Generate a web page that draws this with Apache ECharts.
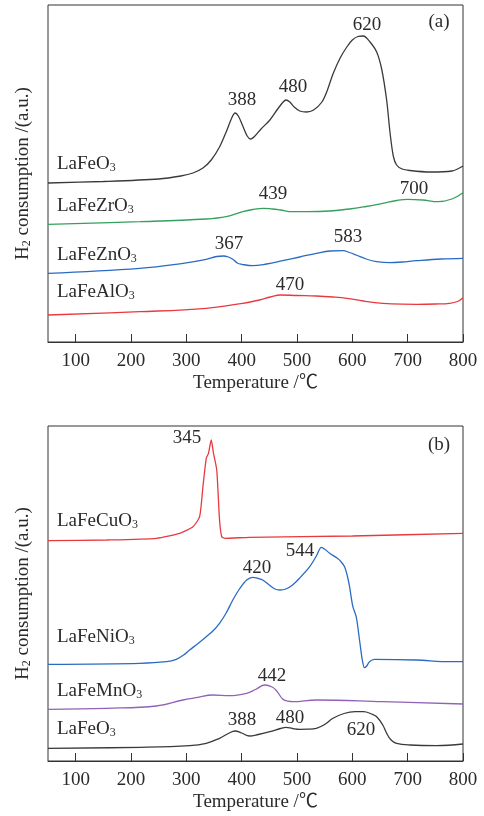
<!DOCTYPE html>
<html>
<head>
<meta charset="utf-8">
<script src="https://cdn.jsdelivr.net/npm/echarts@6/dist/echarts.min.js"></script>
<style>
html, body { margin: 0; padding: 0; background: #fff; }
#chart { width: 484px; height: 816px; }
</style>
</head>
<body>
<div id="chart"></div>
<script>
// H2-TPR profiles, temperature in deg C, signal in arbitrary units
const tempMin = 50;
const tempMax = 800;

// Panel (a)
const aLaFeO3 = [[50,159],[150,160.5],[250,163],[290,166],[312,169],[330,174],[345,182],[360,195],[372,210],[382,224],[388,229],[394,226],[402,216],[410,206],[416,203],[424,206],[435,213],[451,222],[465,233],[475,240],[480,242],[487,240],[495,235],[505,231],[517,230],[530,232],[545,240],[555,252],[565,268],[578,284],[590,295],[600,302],[610,305.5],[620,306],[632,300],[644,290],[653,273],[662,242],[668,210],[674,186],[680,177],[690,173],[704,171.5],[740,170],[780,171],[800,176]];
const aLaFeZrO3 = [[50,117.7],[216,120.3],[336,123],[372,125.3],[402,130.3],[420,132.5],[439,133.7],[455,133],[470,132],[492,130.3],[540,130.5],[595,133],[625,135.5],[655,138.7],[680,141.5],[700,142.7],[727,142],[755,140.3],[780,143],[800,149.3]];
const aLaFeZnO3 = [[50,68.7],[216,73.7],[294,78.7],[336,82.7],[355,85.5],[367,86],[376,85],[384,82.7],[392,79],[400,77.7],[420,76.3],[445,78],[474,81.3],[505,85],[535,88.7],[560,91],[583,91.3],[595,89.5],[607,87],[625,83],[644,80.3],[668,79.3],[690,80],[716,81.3],[760,83],[800,83.7]];
const aLaFeAlO3 = [[50,27],[216,30.3],[336,33.7],[402,38.7],[432,42],[452,45],[470,47],[500,46.5],[535,46],[565,45],[590,43.7],[620,41],[655,38.7],[690,37.8],[716,37.7],[750,38],[776,38.7],[790,40.5],[800,44.3]];

// Panel (b)
const bLaFeCuO3 = [[50,220.3],[156,221],[246,222.7],[288,227.7],[312,234.3],[324,244.3],[330,274.3],[336,302.7],[340,307.7],[345,321],[349,308],[355,291],[360,241],[364,224.3],[370,222.7],[414,223.7],[600,225],[800,227.7]];
const bLaFeNiO3 = [[50,96.7],[216,97.7],[264,99.3],[282,101.7],[295,106],[306,111],[320,117],[336,124.3],[348,130],[360,137.7],[372,148],[384,161],[396,172],[409,181],[420,183.7],[430,182.5],[438,181],[450,176],[460,172],[469,171],[480,172],[492,176],[505,183],[523,194.3],[535,205],[544,213.7],[552,211],[559,207.7],[573,202.7],[580,199],[586,194.3],[591,185],[595,174.3],[601,154.3],[607,144.3],[613,121],[618,101],[622,93.3],[626,95],[631,99.3],[640,101.7],[716,101],[776,99.3],[800,99.3]];
const bLaFeMnO3 = [[50,51.7],[156,52.7],[246,55],[294,61],[318,63.3],[348,66],[378,65.3],[409,67.7],[425,71.5],[442,76],[455,74],[463,70.3],[474,62],[484,59.8],[492,59.3],[535,61],[655,59.3],[800,57]];
const bLaFeO3 = [[50,12.7],[216,13.7],[306,15.3],[336,17.7],[360,22.7],[376,27.5],[388,30],[400,28],[414,25],[430,26.5],[451,29.3],[470,32.5],[480,33.7],[492,32.5],[505,31.7],[520,31.8],[535,32.7],[550,36.5],[565,42.7],[585,47.5],[605,49.3],[620,49.3],[635,47],[644,44.3],[655,36],[662,27.7],[670,21],[680,17.7],[704,16],[752,15.3],[800,17]];

const serif = "'Liberation Serif', 'Times New Roman', 'Noto Sans CJK SC', serif";
const ink = '#2b2b2b';
const colors = { black: '#3a3a3a', green: '#35a05c', blue: '#2a6bc2', red: '#e8393f', purple: '#9162b6' };

const chart = echarts.init(document.getElementById('chart'), null, { renderer: 'canvas' });

function xAxisFor(gridIndex) {
  return {
    type: 'value', gridIndex, min: tempMin, max: tempMax,
    minInterval: 100, maxInterval: 100,
    name: 'Temperature /\u2103', nameLocation: 'middle', nameGap: 32,
    nameTextStyle: { fontFamily: serif, fontSize: 19, color: ink },
    axisLine: { show: true, lineStyle: { color: '#333', width: 1 } },
    axisTick: { show: true, inside: true, length: 8, lineStyle: { color: '#333', width: 1 } },
    axisLabel: { fontFamily: serif, fontSize: 19, color: ink, margin: 10, showMinLabel: false,
      formatter: v => (v === tempMin ? '' : String(v)) },
    splitLine: { show: false }
  };
}
function yAxisFor(gridIndex, max) {
  return {
    type: 'value', gridIndex, min: 0, max,
    name: '{m|H}{s|2}{m| consumption /(a.u.)}', nameLocation: 'middle', nameGap: 15,
    nameTextStyle: {
      fontFamily: serif, fontSize: 19, color: ink,
      rich: {
        m: { fontFamily: serif, fontSize: 19, lineHeight: 19, color: ink, verticalAlign: 'top' },
        s: { fontFamily: serif, fontSize: 12, lineHeight: 12, color: ink, verticalAlign: 'bottom' }
      }
    },
    axisLine: { show: false }, axisTick: { show: false }, axisLabel: { show: false },
    splitLine: { show: false }
  };
}
function curve(data, color, xi, smooth) {
  return {
    type: 'line', data, xAxisIndex: xi, yAxisIndex: xi,
    smooth: smooth, showSymbol: false, symbol: 'none',
    lineStyle: { color, width: 1.3 }, silent: true, animation: false
  };
}

const richSub = {
  m: { fontFamily: serif, fontSize: 19, lineHeight: 19, fill: ink, verticalAlign: 'top' },
  s: { fontFamily: serif, fontSize: 12, lineHeight: 12, fill: ink, verticalAlign: 'bottom' }
};
function formula(base, x, y) {
  return { type: 'text', x, y, silent: true,
    style: { text: '{m|' + base + '}{s|3}', rich: richSub, align: 'left', verticalAlign: 'middle' } };
}
function tag(text, x, y) {
  return { type: 'text', x, y, silent: true,
    style: { text, fontFamily: serif, fontSize: 19, fill: ink, align: 'center', verticalAlign: 'middle' } };
}

chart.setOption({
  animation: false,
  grid: [
    { left: 48, top: 5, width: 415, height: 337, show: true, borderColor: '#333', borderWidth: 1 },
    { left: 48, top: 426, width: 415, height: 335, show: true, borderColor: '#333', borderWidth: 1 }
  ],
  xAxis: [xAxisFor(0), xAxisFor(1)],
  yAxis: [yAxisFor(0, 337), yAxisFor(1, 335)],
  series: [
    curve(aLaFeO3, colors.black, 0, 0.3),
    curve(aLaFeZrO3, colors.green, 0, 0.4),
    curve(aLaFeZnO3, colors.blue, 0, 0.4),
    curve(aLaFeAlO3, colors.red, 0, 0.4),
    curve(bLaFeCuO3, colors.red, 1, 0.2),
    curve(bLaFeNiO3, colors.blue, 1, 0.3),
    curve(bLaFeMnO3, colors.purple, 1, 0.4),
    curve(bLaFeO3, colors.black, 1, 0.4)
  ],
  graphic: [
    tag('(a)', 439, 22.5),
    tag('388', 242, 100.5), tag('480', 293, 87.5), tag('620', 367, 25),
    tag('439', 273, 194), tag('700', 414, 189),
    tag('367', 229, 244), tag('583', 348, 237),
    tag('470', 290, 285),
    formula('LaFeO', 57, 164), formula('LaFeZrO', 57, 206.5),
    formula('LaFeZnO', 57, 255), formula('LaFeAlO', 57, 292.5),

    tag('(b)', 439, 445.5),
    tag('345', 187, 438.5), tag('544', 300, 551), tag('420', 257, 568.5),
    tag('442', 272, 676.5), tag('388', 242, 720), tag('480', 290, 718), tag('620', 361, 730),
    formula('LaFeCuO', 57, 521.5), formula('LaFeNiO', 57, 637),
    formula('LaFeMnO', 57, 691), formula('LaFeO', 57, 729)
  ]
});
</script>
</body>
</html>
